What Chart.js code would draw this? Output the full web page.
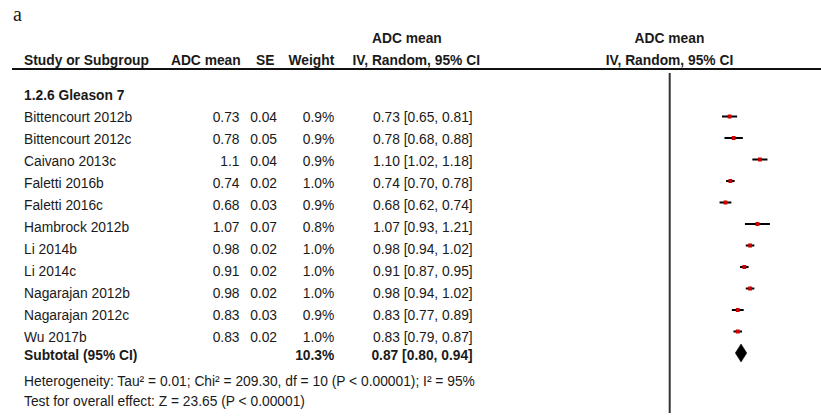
<!DOCTYPE html>
<html>
<head>
<meta charset="utf-8">
<script src="https://cdn.jsdelivr.net/npm/chart.js@4/dist/chart.umd.min.js"></script>
<style>
  html, body { margin: 0; padding: 0; background: #fff; }
  body { width: 821px; height: 416px; position: relative; overflow: hidden;
         font-family: "Liberation Sans", Arial, sans-serif; font-size: 13.8px; color: #1a1a1a; }
  .t { position: absolute; line-height: 16px; white-space: nowrap; }
  .b { font-weight: bold; }
  #rule { position: absolute; left: 12px; top: 68px; width: 809px; height: 2px; background: #111; }
  #plot { position: absolute; left: 585px; top: 70px; }
</style>
</head>
<body>
<div id="rule"></div>
<canvas id="plot" width="235" height="346"></canvas>
<script>
"use strict";

var studies = ["Bittencourt 2012b", "Bittencourt 2012c", "Caivano 2013c", "Faletti 2016b", "Faletti 2016c",
  "Hambrock 2012b", "Li 2014b", "Li 2014c", "Nagarajan 2012b", "Nagarajan 2012c", "Wu 2017b"];
var means = [0.73, 0.78, 1.1, 0.74, 0.68, 1.07, 0.98, 0.91, 0.98, 0.83, 0.83];
var ses = [0.04, 0.05, 0.04, 0.02, 0.03, 0.07, 0.02, 0.02, 0.02, 0.03, 0.02];
var weights = ["0.9%", "0.9%", "0.9%", "1.0%", "0.9%", "0.8%", "1.0%", "1.0%", "1.0%", "0.9%", "1.0%"];
var ciLow = [0.65, 0.68, 1.02, 0.70, 0.62, 0.93, 0.94, 0.87, 0.94, 0.77, 0.79];
var ciHigh = [0.81, 0.88, 1.18, 0.78, 0.74, 1.21, 1.02, 0.95, 1.02, 0.89, 0.87];
var subtotalEst = 0.87, subtotalLow = 0.80, subtotalHigh = 0.94, subtotalWeight = "10.3%";
var heterogeneity = "Heterogeneity: Tau² = 0.01; Chi² = 209.30, df = 10 (P < 0.00001); I² = 95%";
var overallTest = "Test for overall effect: Z = 23.65 (P < 0.00001)";

// text table
function put(text, x, y, align, bold) {
  var d = document.createElement("div");
  d.className = "t" + (bold ? " b" : "");
  d.textContent = text;
  d.style.top = (y - 8) + "px";
  if (align === "right") { d.style.left = (x - 300) + "px"; d.style.width = "300px"; d.style.textAlign = "right"; }
  else if (align === "center") { d.style.left = (x - 200) + "px"; d.style.width = "400px"; d.style.textAlign = "center"; }
  else d.style.left = x + "px";
  document.body.appendChild(d);
}

var a = document.createElement("div");
a.className = "t";
a.textContent = "a";
a.style.cssText = "left:13px;top:2px;font-family:'Liberation Serif',serif;font-size:20px;line-height:24px;";
document.body.appendChild(a);

var X_NAME = 24, X_MEAN = 239.5, X_SE = 277, X_W = 334.3, X_CI = 472.7, X_FOREST = 669.5;
put("ADC mean", 372, 39.3, "left", true);
put("ADC mean", X_FOREST, 39.3, "center", true);
put("Study or Subgroup", X_NAME, 60.7, "left", true);
put("ADC mean", 240.7, 60.7, "right", true);
put("SE", 274.5, 60.7, "right", true);
put("Weight", 334.3, 60.7, "right", true);
put("IV, Random, 95% CI", 480, 60.7, "right", true);
put("IV, Random, 95% CI", X_FOREST, 60.7, "center", true);
put("1.2.6 Gleason 7", X_NAME, 96, "left", true);

studies.forEach(function (s, i) {
  var y = 117.7 + 22 * i;
  put(s, X_NAME, y);
  put(String(means[i]), X_MEAN, y, "right");
  put(ses[i].toFixed(2), X_SE, y, "right");
  put(weights[i], X_W, y, "right");
  put(means[i].toFixed(2) + " [" + ciLow[i].toFixed(2) + ", " + ciHigh[i].toFixed(2) + "]", X_CI, y, "right");
});
put("Subtotal (95% CI)", X_NAME, 356, "left", true);
put(subtotalWeight, X_W, 356, "right", true);
put(subtotalEst.toFixed(2) + " [" + subtotalLow.toFixed(2) + ", " + subtotalHigh.toFixed(2) + "]", X_CI, 356, "right", true);
put(heterogeneity, X_NAME, 381.5);
put(overallTest, X_NAME, 402);

// forest plot
var Y_MIN = -2.037, Y_MAX = 13.805, DIAMOND_H = 0.42;
var sub = studies.length;
var datasets = [];

datasets.push({
  data: means.map(function (m, i) { return { x: m, y: i }; }),
  showLine: false, pointStyle: "rect", pointRadius: 2.7, pointHoverRadius: 2.7,
  pointBackgroundColor: "#cc0000", pointBorderWidth: 0, order: 0
});
studies.forEach(function (s, i) {
  datasets.push({
    data: [{ x: ciLow[i], y: i }, { x: ciHigh[i], y: i }],
    borderColor: "#000", borderWidth: 2, borderCapStyle: "square", pointRadius: 0, order: 1
  });
});
datasets.push({
  data: [{ x: subtotalLow, y: sub }, { x: subtotalEst, y: sub - DIAMOND_H },
         { x: subtotalHigh, y: sub }, { x: subtotalEst, y: sub + DIAMOND_H }, { x: subtotalLow, y: sub }],
  borderColor: "#000", borderWidth: 0.5, backgroundColor: "#000", fill: "shape", pointRadius: 0, order: 1
});
datasets.push({
  data: [{ x: 0, y: Y_MIN }, { x: 0, y: Y_MAX }],
  borderColor: "#333", borderWidth: 2, pointRadius: 0, order: 2
});

new Chart(document.getElementById("plot").getContext("2d"), {
  type: "line",
  data: { datasets: datasets },
  options: {
    responsive: false,
    animation: false,
    devicePixelRatio: 1,
    layout: { padding: 0 },
    plugins: { legend: { display: false }, tooltip: { enabled: false } },
    events: [],
    scales: {
      x: { type: "linear", min: -1, max: 1.8, display: false },
      y: { type: "linear", min: Y_MIN, max: Y_MAX, reverse: true, display: false }
    }
  }
});
</script>
</body>
</html>
